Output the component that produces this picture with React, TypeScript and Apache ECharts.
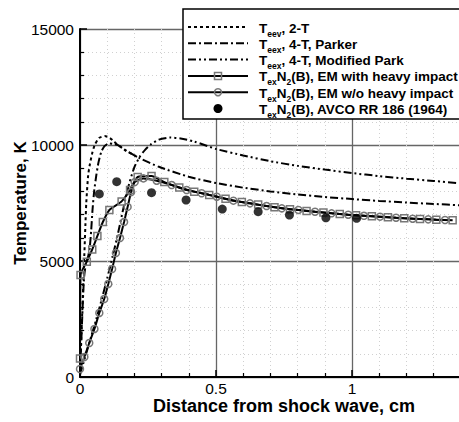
import React, { useEffect, useRef } from "react";
import * as echarts from "echarts";

const FONT = "Liberation Sans, Arial, Helvetica, sans-serif";

// T_eev, 2-T (dotted)
const x2T = [0, 0.004, 0.008, 0.012, 0.016, 0.02, 0.023, 0.03, 0.036, 0.045, 0.054, 0.07, 0.091, 0.11, 0.125, 0.14, 0.17, 0.2, 0.22];
const y2T = [300, 1500, 2700, 4000, 5300, 6600, 7500, 8700, 9150, 9650, 10000, 10300, 10390, 10300, 10150, 10000, 9750, 9550, 9425];

// T_eex, 4-T, Parker (dash-dot)
const xParker = [0, 0.005, 0.01, 0.015, 0.022, 0.03, 0.036, 0.041, 0.046, 0.052, 0.06, 0.068, 0.078, 0.09, 0.108, 0.125, 0.14, 0.17, 0.22, 0.29, 0.4, 0.5, 0.6, 0.7, 0.8, 0.9, 1.0, 1.1, 1.2, 1.3, 1.4];
const yParker = [200, 1600, 3100, 4300, 4900, 5200, 5600, 6300, 7200, 8000, 8700, 9250, 9700, 9950, 10070, 10040, 9990, 9750, 9425, 9060, 8630, 8360, 8160, 8000, 7870, 7760, 7670, 7590, 7520, 7460, 7400];

// T_eex, 4-T, Modified Park (dash-dot-dot)
const xModPark = [0, 0.02, 0.04, 0.06, 0.08, 0.1, 0.12, 0.14, 0.16, 0.18, 0.2, 0.22, 0.24, 0.26, 0.29, 0.33, 0.37, 0.42, 0.5, 0.6, 0.7, 0.8, 0.9, 1.0, 1.1, 1.2, 1.3, 1.4];
const yModPark = [100, 900, 1700, 2500, 3350, 4250, 5200, 6200, 7300, 8300, 9050, 9500, 9800, 10020, 10230, 10320, 10280, 10150, 9830, 9550, 9300, 9100, 8940, 8790, 8660, 8550, 8450, 8350];

// TexN2(B), EM with heavy impact (squares)
const xHeavy = [0, 0.002, 0.025, 0.045, 0.064, 0.084, 0.108, 0.153, 0.184, 0.212, 0.263, 0.31, 0.365, 0.42, 0.475, 0.535, 0.595, 0.655, 0.715, 0.772, 0.833, 0.895, 0.955, 1.015, 1.073, 1.132, 1.192, 1.25, 1.31, 1.37];
const yHeavy = [800, 4400, 4970, 5500, 6080, 6680, 7200, 7570, 8060, 8620, 8660, 8400, 8170, 7990, 7850, 7680, 7540, 7430, 7320, 7235, 7160, 7090, 7025, 6970, 6930, 6888, 6845, 6810, 6780, 6755];

// TexN2(B), EM w/o heavy impact (circles)
const xNoHeavy = [0, 0.016, 0.034, 0.053, 0.071, 0.089, 0.104, 0.118, 0.132, 0.147, 0.162, 0.175, 0.188, 0.201, 0.233, 0.282, 0.337, 0.392, 0.447, 0.503, 0.564, 0.625, 0.686, 0.742, 0.803, 0.864, 0.925, 0.986, 1.044, 1.103, 1.162, 1.223, 1.28, 1.342];
const yNoHeavy = [345, 862, 1465, 2070, 2760, 3360, 4010, 4655, 5345, 5990, 6680, 7330, 7970, 8400, 8560, 8460, 8275, 8060, 7920, 7770, 7600, 7485, 7370, 7270, 7200, 7125, 7055, 6995, 6950, 6910, 6865, 6823, 6795, 6767];

// TexN2(B), AVCO RR 186 (1964) (black dots)
const xAvco = [0.071, 0.135, 0.263, 0.39, 0.523, 0.655, 0.77, 0.904, 1.017];
const yAvco = [7890, 8420, 7945, 7630, 7240, 7125, 6980, 6865, 6840];

const xTicks = [0, 0.5, 1];
const yTicks = [0, 5000, 10000, 15000];

const legendRows = [
  "{n|T}{s|eev}{n|, 2-T}",
  "{n|T}{s|eex}{n|, 4-T, Parker}",
  "{n|T}{s|eex}{n|, 4-T, Modified Park}",
  "{n|T}{s|ex}{n|N}{s|2}{n|(B), EM with heavy impact}",
  "{n|T}{s|ex}{n|N}{s|2}{n|(B), EM w/o heavy impact}",
  "{n|T}{s|ex}{n|N}{s|2}{n|(B), AVCO RR 186 (1964)}",
];

const zip = (xs: number[], ys: number[]) => xs.map((x, i) => [x, ys[i]]);

export default function App() {
  const ref = useRef<HTMLDivElement>(null);
  useEffect(() => {
    if (!ref.current) return;
    const chart = echarts.init(ref.current, undefined, { renderer: "svg" });

    const rowY = (i: number) => 27 + i * 16.3;
    const sx0 = 188, sx1 = 248, mx = 218;
    const LF = 13.5;
    const dashes: (number[] | null)[] = [[3, 3], [8, 3, 2, 3], [8, 3, 2, 3, 2, 3], null, null];
    const legendGraphics: any[] = [
      {
        type: "rect",
        shape: { x: 183, y: 9, width: 320, height: 110 },
        style: { fill: "#fff", stroke: "#000", lineWidth: 1.5 },
        z: 100,
      },
    ];
    dashes.forEach((d, i) => {
      legendGraphics.push({
        type: "line",
        shape: { x1: sx0, y1: rowY(i), x2: sx1, y2: rowY(i) },
        style: { stroke: "#000", lineWidth: 2, lineDash: d || undefined },
        z: 101,
      });
    });
    legendGraphics.push({
      type: "rect",
      shape: { x: mx - 3.5, y: rowY(3) - 3.5, width: 7, height: 7 },
      style: { fill: "rgba(255,255,255,0)", stroke: "#777", lineWidth: 1.5 },
      z: 102,
    });
    legendGraphics.push({
      type: "circle",
      shape: { cx: mx, cy: rowY(4), r: 3.5 },
      style: { fill: "rgba(255,255,255,0)", stroke: "#777", lineWidth: 1.5 },
      z: 102,
    });
    legendGraphics.push({
      type: "circle",
      shape: { cx: mx, cy: rowY(5), r: 4.5 },
      style: { fill: "#000" },
      z: 102,
    });
    legendRows.forEach((t, i) => {
      legendGraphics.push({
        type: "text",
        x: 259,
        y: rowY(i),
        z: 103,
        style: {
          text: t,
          fill: "#000",
          font: `bold ${LF}px ${FONT}`,
          verticalAlign: "middle",
          align: "left",
          rich: {
            n: { fontSize: LF, fontWeight: "bold", fontFamily: FONT, fill: "#000", lineHeight: 16, verticalAlign: "bottom" },
            s: { fontSize: 8.5, fontWeight: "bold", fontFamily: FONT, fill: "#000", lineHeight: 10, verticalAlign: "bottom", padding: [0, 0, -3, 0] },
          },
        },
      });
    });

    const markerLine = (name: string, xs: number[], ys: number[], symbol: string) => ({
      name,
      type: "line",
      data: zip(xs, ys),
      symbol,
      symbolSize: 7,
      showAllSymbol: true,
      smooth: 0.2,
      lineStyle: { color: "#000", width: 2 },
      itemStyle: { color: "rgba(255,255,255,0)", borderColor: "#777", borderWidth: 1.5 },
      z: 5,
    });

    chart.setOption({
      animation: false,
      backgroundColor: "#fff",
      grid: { left: 80, top: 29, width: 408, height: 348, containLabel: false, outerBoundsMode: "none" },
      xAxis: {
        type: "value",
        min: 0,
        max: 1.5,
        interval: 0.5,
        name: "Distance from shock wave, cm",
        nameLocation: "middle",
        nameGap: 20,
        nameMoveOverlap: false,
        nameTextStyle: { fontFamily: FONT, fontWeight: "bold", fontSize: 18, lineHeight: 18, color: "#000" },
        axisLine: { show: true, onZero: false, lineStyle: { color: "#000", width: 2 } },
        axisTick: { show: true, inside: true, length: 7, lineStyle: { color: "#000", width: 1.5 } },
        minorTick: { show: true, splitNumber: 5, length: 4, lineStyle: { color: "#000", width: 1.2 } },
        axisLabel: {
          fontFamily: FONT,
          fontSize: 15.5,
          lineHeight: 13,
          color: "#000",
          margin: 5,
          formatter: (v: number) => (xTicks.some((t) => Math.abs(t - v) < 1e-9) ? String(v) : ""),
        },
        splitLine: { show: true, lineStyle: { color: "#666", width: 1.3 } },
        minorSplitLine: { show: true, lineStyle: { color: "#d0d0d0", width: 1, type: [1, 3] } },
      },
      yAxis: {
        type: "value",
        min: 0,
        max: 15000,
        interval: 5000,
        name: "Temperature, K",
        nameLocation: "middle",
        nameGap: 51,
        nameMoveOverlap: false,
        nameTextStyle: { fontFamily: FONT, fontWeight: "bold", fontSize: 17, color: "#000" },
        axisLine: { show: true, onZero: false, lineStyle: { color: "#000", width: 2 } },
        axisTick: { show: true, inside: true, length: 7, lineStyle: { color: "#000", width: 1.5 } },
        minorTick: { show: true, splitNumber: 5, length: 4, lineStyle: { color: "#000", width: 1.2 } },
        axisLabel: {
          fontFamily: FONT,
          fontSize: 15.5,
          color: "#000",
          margin: 6,
          formatter: (v: number) => (yTicks.includes(v) ? String(v) : ""),
        },
        splitLine: { show: true, lineStyle: { color: "#666", width: 1.3 } },
        minorSplitLine: { show: true, lineStyle: { color: "#d0d0d0", width: 1, type: [1, 3] } },
      },
      series: [
        {
          name: "Teev, 2-T",
          type: "line",
          data: zip(x2T, y2T),
          showSymbol: false,
          smooth: 0.2,
          lineStyle: { color: "#000", width: 2, type: [3, 3] },
          z: 3,
        },
        {
          name: "Teex, 4-T, Parker",
          type: "line",
          data: zip(xParker, yParker),
          showSymbol: false,
          smooth: 0.2,
          lineStyle: { color: "#000", width: 2, type: [8, 3, 2, 3] },
          z: 3,
        },
        {
          name: "Teex, 4-T, Modified Park",
          type: "line",
          data: zip(xModPark, yModPark),
          showSymbol: false,
          smooth: 0.2,
          lineStyle: { color: "#000", width: 2, type: [8, 3, 2, 3, 2, 3] },
          z: 3,
        },
        markerLine("TexN2(B), EM with heavy impact", xHeavy, yHeavy, "rect"),
        markerLine("TexN2(B), EM w/o heavy impact", xNoHeavy, yNoHeavy, "circle"),
        {
          name: "TexN2(B), AVCO RR 186 (1964)",
          type: "scatter",
          data: zip(xAvco, yAvco),
          symbol: "circle",
          symbolSize: 9,
          itemStyle: { color: "#000" },
          z: 6,
        },
      ],
      graphic: legendGraphics,
    });
    return () => chart.dispose();
  }, []);
  return <div ref={ref} style={{ width: 459, height: 422, position: "absolute", left: 0, top: 0 }} />;
}
